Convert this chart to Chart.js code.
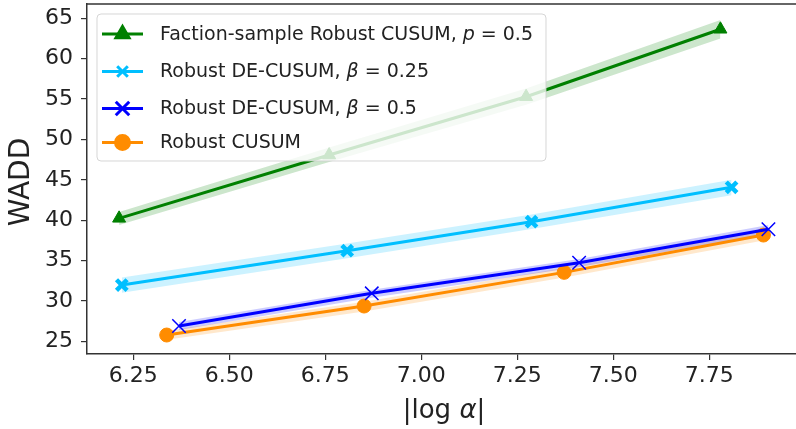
<!DOCTYPE html>
<html>
<head>
<meta charset="utf-8">
<script src="https://cdn.jsdelivr.net/npm/chart.js@4/dist/chart.umd.min.js"></script>
<style>
  html, body { margin: 0; padding: 0; background: #fff; overflow: hidden; }
  #wrap { position: relative; width: 796px; height: 429px; }
</style>
</head>
<body>
<div id="wrap"><canvas id="c"></canvas></div>
<script>
// ---- data ----
const seriesLabels = [
  "Faction-sample Robust CUSUM, $p$ = 0.5",
  "Robust DE-CUSUM, $β$ = 0.25",
  "Robust DE-CUSUM, $β$ = 0.5",
  "Robust CUSUM"
];
const xGreen  = [6.213, 6.760, 7.273, 7.779];
const yGreen  = [40.23, 48.07, 55.29, 63.64];
const upGreen = [41.0, 49.0, 56.3, 64.8];
const loGreen = [39.4, 47.2, 54.3, 62.5];

const xCyan  = [6.220, 6.807, 7.287, 7.808];
const yCyan  = [31.97, 36.22, 39.81, 44.07];
const upCyan = [32.9, 37.1, 40.7, 45.0];
const loCyan = [31.0, 35.3, 38.9, 43.1];

const xBlue  = [6.369, 6.871, 7.411, 7.904];
const yBlue  = [26.90, 30.94, 34.73, 38.87];
const upBlue = [27.4, 31.4, 35.2, 39.4];
const loBlue = [26.4, 30.4, 34.2, 38.3];

const xOrange  = [6.337, 6.851, 7.372, 7.891];
const yOrange  = [25.78, 29.37, 33.54, 38.16];
const upOrange = [26.3, 29.9, 34.1, 38.7];
const loOrange = [25.2, 28.7, 32.9, 37.5];

const xTicks = [6.25, 6.50, 6.75, 7.00, 7.25, 7.50, 7.75];
const yTicks = [25, 30, 35, 40, 45, 50, 55, 60, 65];
const xTitle = ["|log ", "$α$", "|"];
const yTitle = "WADD";

// ---- styles ----
const series = [
  { label: seriesLabels[0], xs: xGreen,  ys: yGreen,  up: upGreen,  lo: loGreen,  color: '#008000', band: 'rgba(0,128,0,0.2)',
    point: { pointStyle: 'triangle', radius: 7.5, borderWidth: 1 } },
  { label: seriesLabels[1], xs: xCyan,   ys: yCyan,   up: upCyan,   lo: loCyan,   color: '#00BFFF', band: 'rgba(0,191,255,0.2)',
    point: { pointStyle: 'crossRot', radius: 7.5, borderWidth: 4.5 } },
  { label: seriesLabels[2], xs: xBlue,   ys: yBlue,   up: upBlue,   lo: loBlue,   color: '#0000FF', band: 'rgba(0,0,255,0.2)',
    point: { pointStyle: 'crossRot', radius: 9.5, borderWidth: 1.5 } },
  { label: seriesLabels[3], xs: xOrange, ys: yOrange, up: upOrange, lo: loOrange, color: '#FF8C00', band: 'rgba(255,140,0,0.2)',
    point: { pointStyle: 'circle', radius: 7, borderWidth: 1 } }
];

const pts = (xs, ys) => xs.map((x, i) => ({ x: x, y: ys[i] }));

const datasets = [];
series.forEach(s => {
  datasets.push({
    label: s.label,
    data: pts(s.xs, s.ys),
    borderColor: s.color,
    backgroundColor: s.color,
    borderWidth: 3,
    pointStyle: s.point.pointStyle,
    pointRadius: s.point.radius,
    pointBorderWidth: s.point.borderWidth,
    pointBorderColor: s.color,
    pointBackgroundColor: s.color,
    fill: false,
    tension: 0
  });
});
series.forEach(s => {
  const upIdx = datasets.length;
  datasets.push({
    label: s.label + ' upper', data: pts(s.xs, s.up),
    borderWidth: 0, pointRadius: 0, borderColor: 'rgba(0,0,0,0)',
    backgroundColor: s.band, fill: { target: upIdx + 1 }, tension: 0
  });
  datasets.push({
    label: s.label + ' lower', data: pts(s.xs, s.lo),
    borderWidth: 0, pointRadius: 0, borderColor: 'rgba(0,0,0,0)',
    backgroundColor: s.band, fill: false, tension: 0
  });
});

function drawRich(ctx, parts, x, y, size, align) {
  const segs = [];
  parts.forEach(p => {
    p.split('$').forEach((t, i) => { if (t.length) segs.push({ t: t, it: i % 2 === 1 }); });
  });
  let total = 0;
  segs.forEach(s => {
    ctx.font = (s.it ? 'italic ' : '') + size + "px 'DejaVu Sans'";
    s.w = ctx.measureText(s.t).width; total += s.w;
  });
  let cx = align === 'center' ? x - total / 2 : x;
  segs.forEach(s => {
    ctx.font = (s.it ? 'italic ' : '') + size + "px 'DejaVu Sans'";
    ctx.fillText(s.t, cx, y); cx += s.w;
  });
}

const decor = {
  id: 'decor',
  afterDraw(chart) {
    const ctx = chart.ctx, ca = chart.chartArea;
    ctx.save();
    ctx.strokeStyle = '#333'; ctx.lineWidth = 1.5;
    ctx.beginPath(); ctx.moveTo(ca.left, ca.top); ctx.lineTo(ca.right + 2, ca.top); ctx.stroke();

    const bx = 97, by = 14, bw = 449, bh = 147, r = 4;
    ctx.beginPath();
    ctx.moveTo(bx + r, by); ctx.lineTo(bx + bw - r, by); ctx.arcTo(bx + bw, by, bx + bw, by + r, r);
    ctx.lineTo(bx + bw, by + bh - r); ctx.arcTo(bx + bw, by + bh, bx + bw - r, by + bh, r);
    ctx.lineTo(bx + r, by + bh); ctx.arcTo(bx, by + bh, bx, by + bh - r, r);
    ctx.lineTo(bx, by + r); ctx.arcTo(bx, by, bx + r, by, r); ctx.closePath();
    ctx.fillStyle = 'rgba(255,255,255,0.8)'; ctx.fill();
    ctx.strokeStyle = 'rgba(204,204,204,0.8)'; ctx.lineWidth = 1; ctx.stroke();

    const rows = [34, 71.5, 108.5, 142.5];
    series.forEach((s, i) => {
      const y = rows[i];
      ctx.strokeStyle = s.color; ctx.lineWidth = 3;
      ctx.beginPath(); ctx.moveTo(102, y); ctx.lineTo(143, y); ctx.stroke();
      ctx.fillStyle = s.color; ctx.strokeStyle = s.color;
      Chart.helpers.drawPoint(ctx, { pointStyle: s.point.pointStyle, radius: s.point.radius, borderWidth: s.point.borderWidth, rotation: 0 }, 122.5, y);
      ctx.fillStyle = '#222'; ctx.textBaseline = 'middle'; ctx.textAlign = 'left';
      drawRich(ctx, [s.label], 160, y + 1, 19, 'left');
    });

    ctx.fillStyle = '#222'; ctx.textBaseline = 'middle'; ctx.textAlign = 'left';
    drawRich(ctx, xTitle, 444, 411, 26, 'center');
    ctx.save();
    ctx.translate(22, 182); ctx.rotate(-Math.PI / 2);
    ctx.textAlign = 'center'; ctx.font = "28px 'DejaVu Sans'";
    ctx.fillText(yTitle, 0, 0);
    ctx.restore();
    ctx.restore();
  }
};

function zeroPad(sc) { sc.paddingTop = 0; sc.paddingBottom = 0; sc.paddingLeft = 0; sc.paddingRight = 0; }

new Chart(document.getElementById('c'), {
  type: 'line',
  data: { datasets: datasets },
  plugins: [decor],
  options: {
    responsive: true, maintainAspectRatio: false, animation: false,
    layout: { autoPadding: false, padding: { top: 4, left: 0, right: 0, bottom: 0 } },
    plugins: { legend: { display: false }, tooltip: { enabled: false }, filler: { drawTime: 'beforeDatasetsDraw' } },
    scales: {
      x: {
        type: 'linear', min: 6.1294, max: 7.9758,
        afterBuildTicks: sc => { sc.ticks = xTicks.map(v => ({ value: v })); },
        afterFit: sc => { sc.height = 75; zeroPad(sc); },
        grid: { drawOnChartArea: false, drawTicks: true, tickLength: 6, color: '#333', lineWidth: 1.2 },
        border: { display: true, color: '#333', width: 1.5 },
        ticks: { color: '#222', font: { family: 'DejaVu Sans', size: 22 }, padding: 3, maxRotation: 0,
                 callback: v => v.toFixed(2) },
        title: { display: false }
      },
      y: {
        type: 'linear', min: 23.43, max: 66.77,
        afterBuildTicks: sc => { sc.ticks = yTicks.map(v => ({ value: v })); },
        afterFit: sc => { sc.width = 87; zeroPad(sc); },
        grid: { drawOnChartArea: false, drawTicks: true, tickLength: 6, color: '#333', lineWidth: 1.2 },
        border: { display: true, color: '#333', width: 1.5 },
        ticks: { color: '#222', font: { family: 'DejaVu Sans', size: 22 }, padding: 8,
                 callback: v => String(v) },
        title: { display: false }
      }
    }
  }
});
</script>
</body>
</html>
